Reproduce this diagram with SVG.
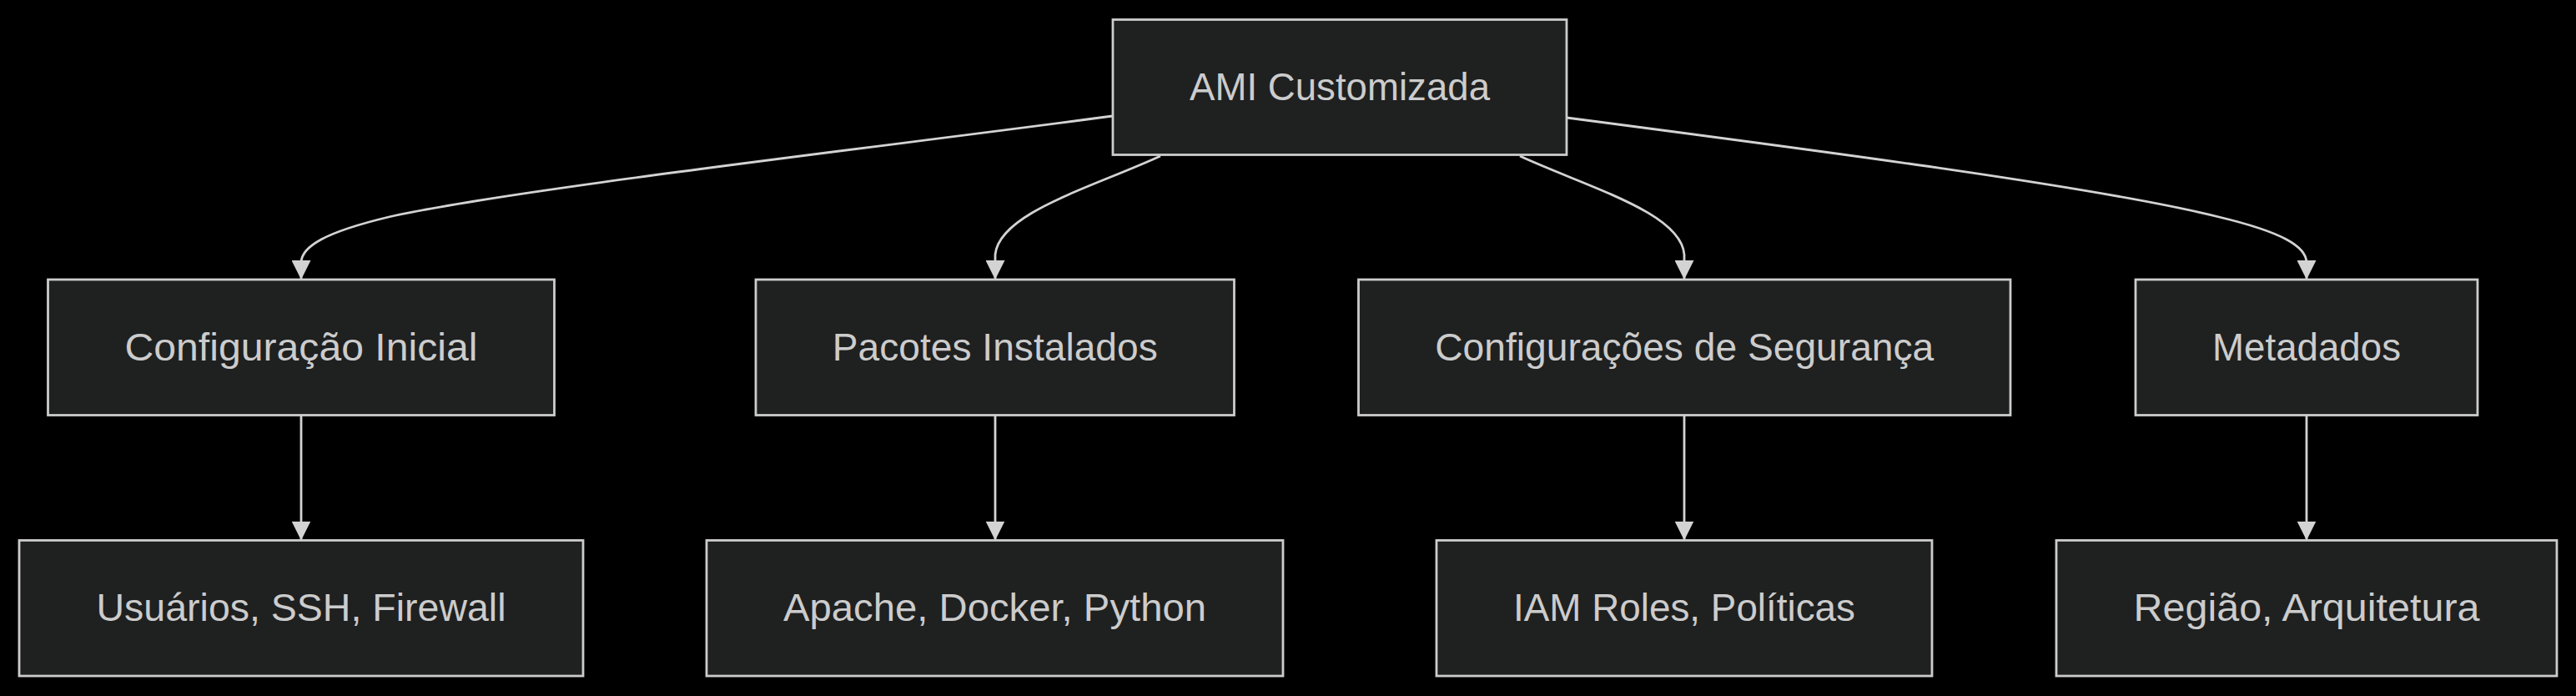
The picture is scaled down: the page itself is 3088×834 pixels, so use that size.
<svg xmlns="http://www.w3.org/2000/svg" width="3088" height="834" viewBox="0 0 3088 834">
  <style>
    .node rect { fill: #1f2020; stroke: #cccccc; stroke-width: 2.8; }
    .node text { fill: #cccccc; font-family: "Liberation Sans", Arial, sans-serif; font-size: 46px; text-anchor: middle; }
    .edge { fill: none; stroke: #d3d3d3; stroke-width: 2.8; marker-end: url(#arrow); }
  </style>
  <defs>
    <marker id="arrow" viewBox="0 0 10 10" refX="10" refY="5" markerUnits="userSpaceOnUse" markerWidth="23" markerHeight="23" orient="auto">
      <path d="M0,0 L10,5 L0,10 z" fill="#d3d3d3"/>
    </marker>
  </defs>
  <rect x="0" y="0" width="3088" height="834" fill="#000000"/>

  <g id="connectors">
    <path class="edge" d="M1334,139 C1040,178 606,228 466,260 C391,278 361,295 361,315 L361,335"/>
    <path class="edge" d="M1391,187 C1308,225 1198,255 1193,305 L1193,335"/>
    <path class="edge" d="M1822,187 C1905,225 2015,255 2019,305 L2019,335"/>
    <path class="edge" d="M1878,141 C2200,183 2520,225 2660,260 C2735,278 2765,295 2765,315 L2765,335"/>
    <path class="edge" d="M361,497.5 L361,647.5"/>
    <path class="edge" d="M1193,497.5 L1193,647.5"/>
    <path class="edge" d="M2019,497.5 L2019,647.5"/>
    <path class="edge" d="M2765,497.5 L2765,647.5"/>
  </g>

  <g id="ami" class="node">
    <rect x="1334" y="23.5" width="544" height="162"/>
    <text x="1606" y="120" textLength="360" lengthAdjust="spacingAndGlyphs">AMI Customizada</text>
  </g>

  <g id="config-inicial" class="node">
    <rect x="57.5" y="335" width="607" height="162.5"/>
    <text x="361" y="432" textLength="423" lengthAdjust="spacingAndGlyphs">Configuração Inicial</text>
  </g>
  <g id="pacotes" class="node">
    <rect x="906" y="335" width="573.5" height="162.5"/>
    <text x="1192.75" y="432" textLength="390" lengthAdjust="spacingAndGlyphs">Pacotes Instalados</text>
  </g>
  <g id="seguranca" class="node">
    <rect x="1628.5" y="335" width="781.5" height="162.5"/>
    <text x="2019.25" y="432" textLength="598" lengthAdjust="spacingAndGlyphs">Configurações de Segurança</text>
  </g>
  <g id="metadados" class="node">
    <rect x="2560" y="335" width="410" height="162.5"/>
    <text x="2765" y="432" textLength="226" lengthAdjust="spacingAndGlyphs">Metadados</text>
  </g>

  <g id="usuarios" class="node">
    <rect x="23" y="647.5" width="676" height="162.5"/>
    <text x="361" y="744" textLength="491" lengthAdjust="spacingAndGlyphs">Usuários, SSH, Firewall</text>
  </g>
  <g id="apache" class="node">
    <rect x="847" y="647.5" width="691" height="162.5"/>
    <text x="1192.5" y="744" textLength="507" lengthAdjust="spacingAndGlyphs">Apache, Docker, Python</text>
  </g>
  <g id="iam" class="node">
    <rect x="1722" y="647.5" width="594" height="162.5"/>
    <text x="2019" y="744" textLength="410" lengthAdjust="spacingAndGlyphs">IAM Roles, Políticas</text>
  </g>
  <g id="regiao" class="node">
    <rect x="2465" y="647.5" width="600" height="162.5"/>
    <text x="2765" y="744" textLength="415" lengthAdjust="spacingAndGlyphs">Região, Arquitetura</text>
  </g>
</svg>
